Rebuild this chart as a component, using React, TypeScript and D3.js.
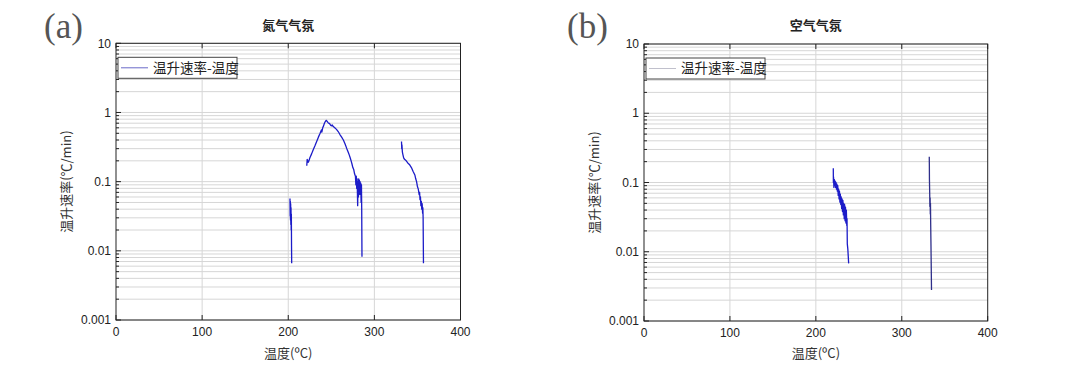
import React from "react";
import * as d3 from "d3";

const X_TICKS = [0, 100, 200, 300, 400];
const X_GRID = [100, 200, 300];
const Y_TICKS = [0.001, 0.01, 0.1, 1, 10];
const Y_TICK_LABELS = ["0.001", "0.01", "0.1", "1", "10"];

type Pt = [number, number];

// Panel (a): nitrogen atmosphere
const segA1: Pt[] = [
  [202.0, 0.057], [202.2, 0.032], [202.4, 0.052], [202.6, 0.028], [202.8, 0.048],
  [203.0, 0.024], [203.2, 0.042], [203.4, 0.02], [203.6, 0.034], [203.8, 0.012], [204.0, 0.0066],
];
const segA2: Pt[] = [
  [221.5, 0.17], [222, 0.21], [223, 0.19], [224, 0.2], [225, 0.22], [227, 0.25], [229, 0.29],
  [231, 0.33], [233, 0.38], [235, 0.44], [237, 0.5], [238.5, 0.56], [239, 0.52], [240, 0.6],
  [241, 0.64], [242, 0.7], [243, 0.74], [244, 0.77], [245, 0.75], [246, 0.72], [247, 0.7],
  [248, 0.69], [249, 0.66], [250, 0.64], [251, 0.66], [252, 0.63], [254, 0.6], [256, 0.57],
  [258, 0.53], [260, 0.48], [262, 0.44], [264, 0.4], [266, 0.35], [268, 0.3], [270, 0.26],
  [271, 0.24], [272, 0.22], [273, 0.2], [274, 0.18], [275, 0.16], [276, 0.15], [277, 0.13],
  [278, 0.12], [278.5, 0.09], [279, 0.12], [279.5, 0.08], [280, 0.11], [280.3, 0.07],
  [280.6, 0.045], [281, 0.1], [281.4, 0.06], [281.8, 0.11], [282.2, 0.075], [282.6, 0.105],
  [283, 0.065], [283.4, 0.1], [283.8, 0.07], [284.2, 0.095], [284.6, 0.05], [285, 0.09],
  [285.3, 0.04], [285.6, 0.0082],
];
const segA3: Pt[] = [
  [331.5, 0.38], [331.8, 0.3], [332, 0.34], [332.5, 0.27], [333, 0.25], [334, 0.22], [335, 0.21],
  [337, 0.2], [339, 0.185], [341, 0.175], [343, 0.16], [345, 0.14], [347, 0.125], [348, 0.11],
  [349, 0.1], [350, 0.085], [351, 0.078], [352, 0.065], [352.5, 0.07], [353, 0.055],
  [353.5, 0.06], [354, 0.045], [354.5, 0.052], [355, 0.04], [355.5, 0.048], [356, 0.035],
  [356.3, 0.042], [356.6, 0.03], [357, 0.0066],
];

// Panel (b): air atmosphere
const segB1: Pt[] = [
  [220.3, 0.16], [220.4, 0.1], [220.6, 0.12], [221, 0.085], [221.5, 0.11], [222, 0.09],
  [222.5, 0.105], [223, 0.085], [223.5, 0.1], [224, 0.08], [224.5, 0.095], [225, 0.075],
  [225.5, 0.09], [226, 0.065], [226.5, 0.08], [227, 0.058], [227.5, 0.075], [228, 0.052],
  [228.5, 0.068], [229, 0.048], [229.5, 0.062], [230, 0.042], [230.5, 0.058], [231, 0.038],
  [231.5, 0.055], [232, 0.034], [232.5, 0.05], [233, 0.03], [233.5, 0.048], [234, 0.028],
  [234.5, 0.044], [235, 0.026], [235.5, 0.04], [236, 0.024], [236.3, 0.03], [236.6, 0.013],
  [237.2, 0.011], [238.2, 0.0068],
];
const segB2: Pt[] = [
  [332, 0.236], [332.1, 0.18], [332.2, 0.11], [332.5, 0.07], [332.7, 0.045], [333, 0.06],
  [333.2, 0.035], [333.4, 0.05], [333.6, 0.028], [334, 0.012], [334.6, 0.0028],
];

const MINOR_Y: number[] = [];
[0.001, 0.01, 0.1, 1].forEach((d) => {
  for (let m = 2; m <= 9; m++) MINOR_Y.push(d * m);
});

const CJK = "'Noto Sans CJK SC', 'Noto Sans', sans-serif";
const SANS = "'Liberation Sans', Arial, sans-serif";

type PanelProps = {
  left: number; right: number; top: number; bottom: number;
  tag: string; tagX: number; title: string;
  segments: { pts: Pt[]; color: string }[];
  legendColor: string;
};

function Panel(p: PanelProps) {
  const x = d3.scaleLinear().domain([0, 400]).range([p.left, p.right]);
  const y = d3.scaleLog().domain([0.001, 10]).range([p.bottom, p.top]);
  const line = d3.line<Pt>().x((d) => x(d[0])).y((d) => y(d[1]));
  const cx = (p.left + p.right) / 2;
  const cy = (p.top + p.bottom) / 2;
  return (
    <g>
      <text x={p.tagX} y={38} fontFamily="'Liberation Serif', 'DejaVu Serif', serif" fontSize={35} fill="#555">{p.tag}</text>
      <text x={cx} y={30} textAnchor="middle" fontFamily={CJK} fontSize={13} fontWeight={600} fill="#222">{p.title}</text>
      {/* grid */}
      {MINOR_Y.concat(Y_TICKS).map((v, i) => (
        <line key={"gy" + i} x1={p.left} x2={p.right} y1={y(v)} y2={y(v)} stroke="#d6d6d6" strokeWidth={1} />
      ))}
      {X_GRID.map((v) => (
        <line key={"gx" + v} x1={x(v)} x2={x(v)} y1={p.top} y2={p.bottom} stroke="#d6d6d6" strokeWidth={1} />
      ))}
      {/* data */}
      {p.segments.map((s, i) => (
        <path key={"s" + i} d={line(s.pts) || ""} fill="none" stroke={s.color} strokeWidth={1.3} strokeLinejoin="round" />
      ))}
      {/* frame */}
      <rect x={p.left} y={p.top} width={p.right - p.left} height={p.bottom - p.top} fill="none" stroke="#222" strokeWidth={1} />
      {/* y ticks */}
      {Y_TICKS.map((v, i) => (
        <g key={"yt" + i}>
          <line x1={p.left} x2={p.left + 5} y1={y(v)} y2={y(v)} stroke="#222" />
          <text x={p.left - 5} y={y(v)} dy="0.35em" textAnchor="end" fontFamily={SANS} fontSize={12} fill="#222">{Y_TICK_LABELS[i]}</text>
        </g>
      ))}
      {MINOR_Y.map((v, i) => (
        <line key={"ym" + i} x1={p.left} x2={p.left + 3} y1={y(v)} y2={y(v)} stroke="#222" />
      ))}
      {/* x ticks */}
      {X_TICKS.map((v) => (
        <g key={"xt" + v}>
          <line x1={x(v)} x2={x(v)} y1={p.bottom} y2={p.bottom - 5} stroke="#222" />
          <line x1={x(v)} x2={x(v)} y1={p.top} y2={p.top + 5} stroke="#222" />
          <text x={x(v)} y={p.bottom + 16} textAnchor="middle" fontFamily={SANS} fontSize={12} fill="#222">{v}</text>
        </g>
      ))}
      {/* axis labels */}
      <text x={cx} y={358} textAnchor="middle" fontFamily={CJK} fontSize={13} fill="#333">温度(ºC)</text>
      <text transform={`translate(${p.left - 45},${cy}) rotate(-90)`} textAnchor="middle" fontFamily={CJK} fontSize={13} fill="#333">温升速率(℃/min)</text>
      {/* legend */}
      <rect x={p.left + 2} y={p.top + 14} width={119} height={21} fill="#fff" stroke="#444" strokeWidth={1} />
      <line x1={p.left + 5} x2={p.left + 32} y1={p.top + 24.5} y2={p.top + 24.5} stroke={p.legendColor} strokeWidth={1} />
      <text x={p.left + 37} y={p.top + 24.5} dy="0.35em" fontFamily={CJK} fontSize={13.5} fill="#222">温升速率-温度</text>
    </g>
  );
}

export default function App() {
  return (
    <svg width={1080} height={383} style={{ position: "absolute", left: 0, top: 0, background: "#fff" }}>
      <rect x={0} y={0} width={1080} height={383} fill="#fff" />
      <Panel left={116} right={460.5} top={43.3} bottom={320} tag="(a)" tagX={44} title="氮气气氛"
        segments={[{ pts: segA1, color: "#1c1cc8" }, { pts: segA2, color: "#1c1cc8" }, { pts: segA3, color: "#1c1cc8" }]}
        legendColor="#6a6ac8" />
      <Panel left={644} right={987.7} top={44} bottom={321} tag="(b)" tagX={567} title="空气气氛"
        segments={[{ pts: segB1, color: "#1c1cc8" }, { pts: segB2, color: "#2f2f8a" }]}
        legendColor="#c0c0cc" />
    </svg>
  );
}
